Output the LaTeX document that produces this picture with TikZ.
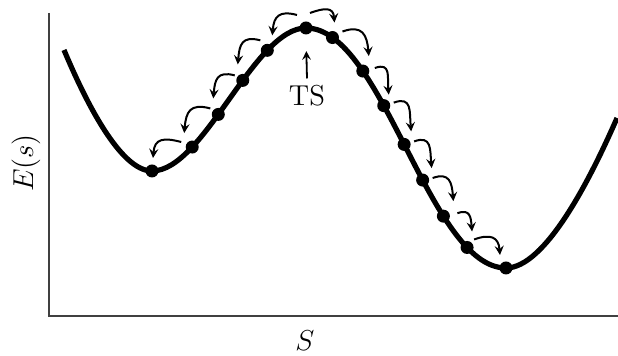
\documentclass[tikz,border=0pt]{standalone}
\usepackage{amsmath}
\usepackage{tikz}
\usetikzlibrary{arrows}
\colorlet{axisgray}{black!75}

\begin{document}
\begin{tikzpicture}[x=0.5pt,y=-0.5pt,>=stealth,
  dot/.style={circle,fill=black,inner sep=0pt,minimum size=6.5pt},
  hop/.style={->,line width=1pt,looseness=1.5}]
\useasboundingbox (0,0) rectangle (618,356);
% axes
\draw[axisgray,line width=1pt] (49,13) -- (49,316) -- (618,316);
\node[rotate=90] (ylab) at (26,163) {\Large $E(s)$};
\node (xlab) at (305,341) {\Large $S$};
% energy profile, with the points placed on it
\draw[line width=2.6pt] (64,50) .. controls (85,100) and (120,171) .. (152,171) node[dot] (p1) {}
  .. controls (204,171) and (254,28) .. (306,28)
     node[dot,pos=.26] (p2) {} node[dot,pos=.43] (p3) {}
     node[dot,pos=.59] (p4) {} node[dot,pos=.75] (p5) {} node[dot] (p6) {}
  .. controls (383,28) and (429,268) .. (506,268)
     node[dot,pos=.12] (p7) {} node[dot,pos=.27] (p8) {} node[dot,pos=.38] (p9) {}
     node[dot,pos=.49] (p10) {} node[dot,pos=.59] (p11) {} node[dot,pos=.70] (p12) {}
     node[dot,pos=.82] (p13) {} node[dot] (p14) {}
  .. controls (545,268) and (590,180) .. (617,118);
% hops down the left side (offsets in picture units)
\foreach \a/\b/\s/\e in {6/5/{-9,-13}/{5,-15},5/4/{-7,-10}/{-5,-16},4/3/{-8,-5}/{-5,-16},
  3/2/{-8,-6}/{-8,-14},2/1/{-11,-5}/{1,-13}}
  \draw[hop] ([shift={(\s)}]p\a.center) to[out=165,in=85] ([shift={(\e)}]p\b.center);
% hops down the right side
\foreach \a/\b/\s/\e in {6/7/{4,-15}/{2,-15},7/8/{10,-6}/{6,-15},8/9/{12,-3}/{5,-11},
  9/10/{10,-3}/{7,-13},10/11/{10,-3}/{9,-12},11/12/{10,-2}/{10,-15},
  12/13/{14,-3}/{5,-16},13/14/{7,-8}/{-6,-13}}
  \draw[hop] ([shift={(\s)}]p\a.center) to[out=20,in=95] ([shift={(\e)}]p\b.center);
% transition state
\node (ts) at (307,96) {\Large TS};
\draw[->,line width=0.9pt,shorten >=7pt] (ts.north) -- (p6.south);
\end{tikzpicture}
\end{document}
